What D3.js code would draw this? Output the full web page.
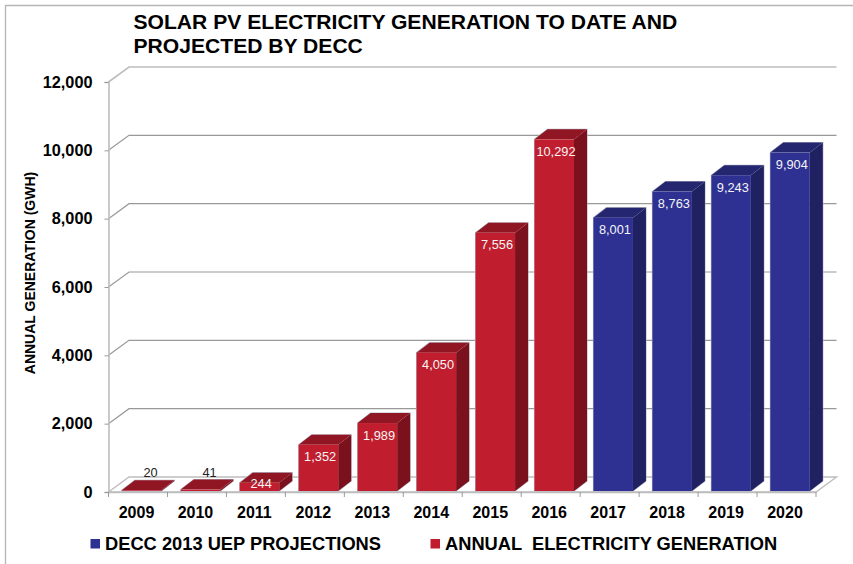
<!DOCTYPE html>
<html>
<head>
<meta charset="utf-8">
<script src="https://cdnjs.cloudflare.com/ajax/libs/d3/7.8.5/d3.min.js"></script>
<style>
html, body { margin: 0; padding: 0; background: #fff; }
svg { display: block; font-family: "Liberation Sans", Arial, sans-serif; }
</style>
</head>
<body>
<div id="chart"></div>
<script>
const years = ["2009", "2010", "2011", "2012", "2013", "2014", "2015", "2016", "2017", "2018", "2019", "2020"];
const generation = [20, 41, 244, 1352, 1989, 4050, 7556, 10292, 8001, 8763, 9243, 9904];
const projected = [false, false, false, false, false, false, false, false, true, true, true, true];
const yTicks = [0, 2000, 4000, 6000, 8000, 10000, 12000];
const titleLines = ["SOLAR PV ELECTRICITY GENERATION TO DATE AND", "PROJECTED BY DECC"];
const legendItems = ["DECC 2013 UEP PROJECTIONS", "ANNUAL  ELECTRICITY GENERATION"];

const width = 853, height = 564;
const left = 108.5, right = 816, y0 = 492, y12 = 82;
const wallDx = 20.5, wallDy = -15; // depth of the back wall
const barDx = 13, barDy = -10;   // depth of each bar
const red = { front: "#c01e2e", top: "#8f1622", side: "#7a111c" };
const blue = { front: "#2e3192", top: "#24276f", side: "#1f2160" };

const svg = d3.select("#chart").append("svg").attr("width", width).attr("height", height);

svg.append("path")
	.attr("d", `M5.5,${height}V5.5H${width}`)
	.attr("fill", "none")
	.attr("stroke", "#b5b5b5")
	.attr("stroke-width", 1.3);

const x = d3.scaleBand().domain(years).range([left, right]);
const y = d3.scaleLinear().domain([0, 12000]).range([y0, y12]);

// title
svg.append("text")
	.attr("font-weight", "bold")
	.attr("font-size", 21.1)
	.attr("fill", "#000")
	.selectAll("tspan")
	.data(titleLines)
	.enter()
	.append("tspan")
	.attr("x", 133.5)
	.attr("y", (d, i) => 29 + i * 24)
	.text((d) => d);

// back wall gridlines and the slants down to the axis
const grid = svg.append("g").attr("fill", "none");
grid.selectAll("path")
	.data(yTicks.filter((d) => d > 0))
	.enter()
	.append("path")
	.attr("d", (d) => `M${left},${y(d)}L${left + wallDx},${y(d) + wallDy}H${right + wallDx}`)
	.attr("stroke", (d) => (d === 12000 ? "#bdbdbd" : "#999"))
	.attr("stroke-width", (d) => (d === 12000 ? 1.6 : 1.2));

// floor
svg.append("path")
	.attr("d", `M${left},${y0}L${left + wallDx},${y0 + wallDy}H${right + wallDx}L${right},${y0}Z`)
	.attr("fill", "#fff")
	.attr("stroke", "#bdbdbd")
	.attr("stroke-width", 1.4);

// axes
const yAxis = d3.axisLeft(y).tickValues(yTicks).tickSize(4).tickPadding(12).tickFormat(d3.format(","));
const yG = svg.append("g").attr("transform", `translate(${left},0)`).call(yAxis);
const xAxis = d3.axisBottom(x).tickSize(0).tickPadding(15);
const xG = svg.append("g").attr("transform", `translate(0,${y0})`).call(xAxis);
xG.selectAll(".tick")
	.append("line")
	.attr("x1", -x.bandwidth() / 2)
	.attr("x2", -x.bandwidth() / 2)
	.attr("y2", 5);
xG.append("line")
	.attr("x1", right)
	.attr("x2", right)
	.attr("y2", 5);
[yG, xG].forEach((g) => {
	g.select(".domain").attr("stroke", "#bdbdbd").attr("stroke-width", 1.6);
	g.selectAll("line").attr("stroke", "#9a9a9a").attr("stroke-width", 1);
	g.selectAll("text")
		.attr("font-family", "Liberation Sans, Arial, sans-serif")
		.attr("font-weight", "bold")
		.attr("fill", "#000");
});
yG.selectAll("text").attr("font-size", 16.3);
xG.selectAll("text").attr("font-size", 16).attr("dx", -1.5);

svg.append("text")
	.attr("transform", `translate(35,${(y(0) + y(12000)) / 2 - 14}) rotate(-90)`)
	.attr("text-anchor", "middle")
	.attr("font-weight", "bold")
	.attr("font-size", 14)
	.attr("fill", "#000")
	.text("ANNUAL GENERATION (GWH)");

// bars: pale outline, then side, top and front faces
const barW = 39.5;
const barX = (d) => x(d.year) + 13.3;
const barBase = y0 - 1;
const rows = years.map((year, i) => ({ year, value: generation[i], palette: projected[i] ? blue : red }));
const barTop = (d) => y(d.value) - 1;

const bars = svg.append("g")
	.selectAll("g")
	.data(rows)
	.enter()
	.append("g");

bars.append("path")
	.attr("fill", "none")
	.attr("stroke", "#b4b4c4")
	.attr("stroke-width", 1.1)
	.attr("d", (d) => `M${barX(d)},${barBase}V${barTop(d)}l${barDx},${barDy}h${barW}V${barBase + barDy}l${-barDx},${-barDy}Z`);
bars.append("path")
	.attr("fill", (d) => d.palette.side)
	.attr("d", (d) => `M${barX(d) + barW},${barBase}V${barTop(d)}l${barDx},${barDy}V${barBase + barDy}Z`);
bars.append("path")
	.attr("fill", (d) => d.palette.top)
	.attr("d", (d) => `M${barX(d)},${barTop(d)}l${barDx},${barDy}h${barW}l${-barDx},${-barDy}Z`);
bars.append("rect")
	.attr("fill", (d) => d.palette.front)
	.attr("x", barX)
	.attr("y", barTop)
	.attr("width", barW)
	.attr("height", (d) => barBase - barTop(d));

// labels sit inside the bar, except the two flat ones that float over it
bars.append("text")
	.attr("x", (d) => barX(d) + barW / 2 + (d.value < 100 ? 9 : 1.7))
	.attr("y", (d) => (d.value < 100 ? 476.5 : barTop(d) + Math.min(16.5, (barBase - barTop(d)) * 0.6)))
	.attr("text-anchor", "middle")
	.attr("font-size", 12.8)
	.attr("fill", (d) => (d.value < 100 ? "#222" : "#f4f4f4"))
	.text((d) => d3.format(",")(d.value));

// legend
const legendX = [90.5, 430.5];
const legendFill = [blue.front, red.front];
const legend = svg.append("g")
	.selectAll("g")
	.data(legendItems)
	.enter()
	.append("g")
	.attr("transform", (d, i) => `translate(${legendX[i]},539)`);
legend.append("rect")
	.attr("width", 9.5)
	.attr("height", 9.5)
	.attr("fill", (d, i) => legendFill[i]);
legend.append("text")
	.attr("x", 14.5)
	.attr("y", 10.5)
	.attr("font-weight", "bold")
	.attr("font-size", 18.3)
	.attr("fill", "#000")
	.style("white-space", "pre")
	.text((d) => d);
</script>
</body>
</html>
